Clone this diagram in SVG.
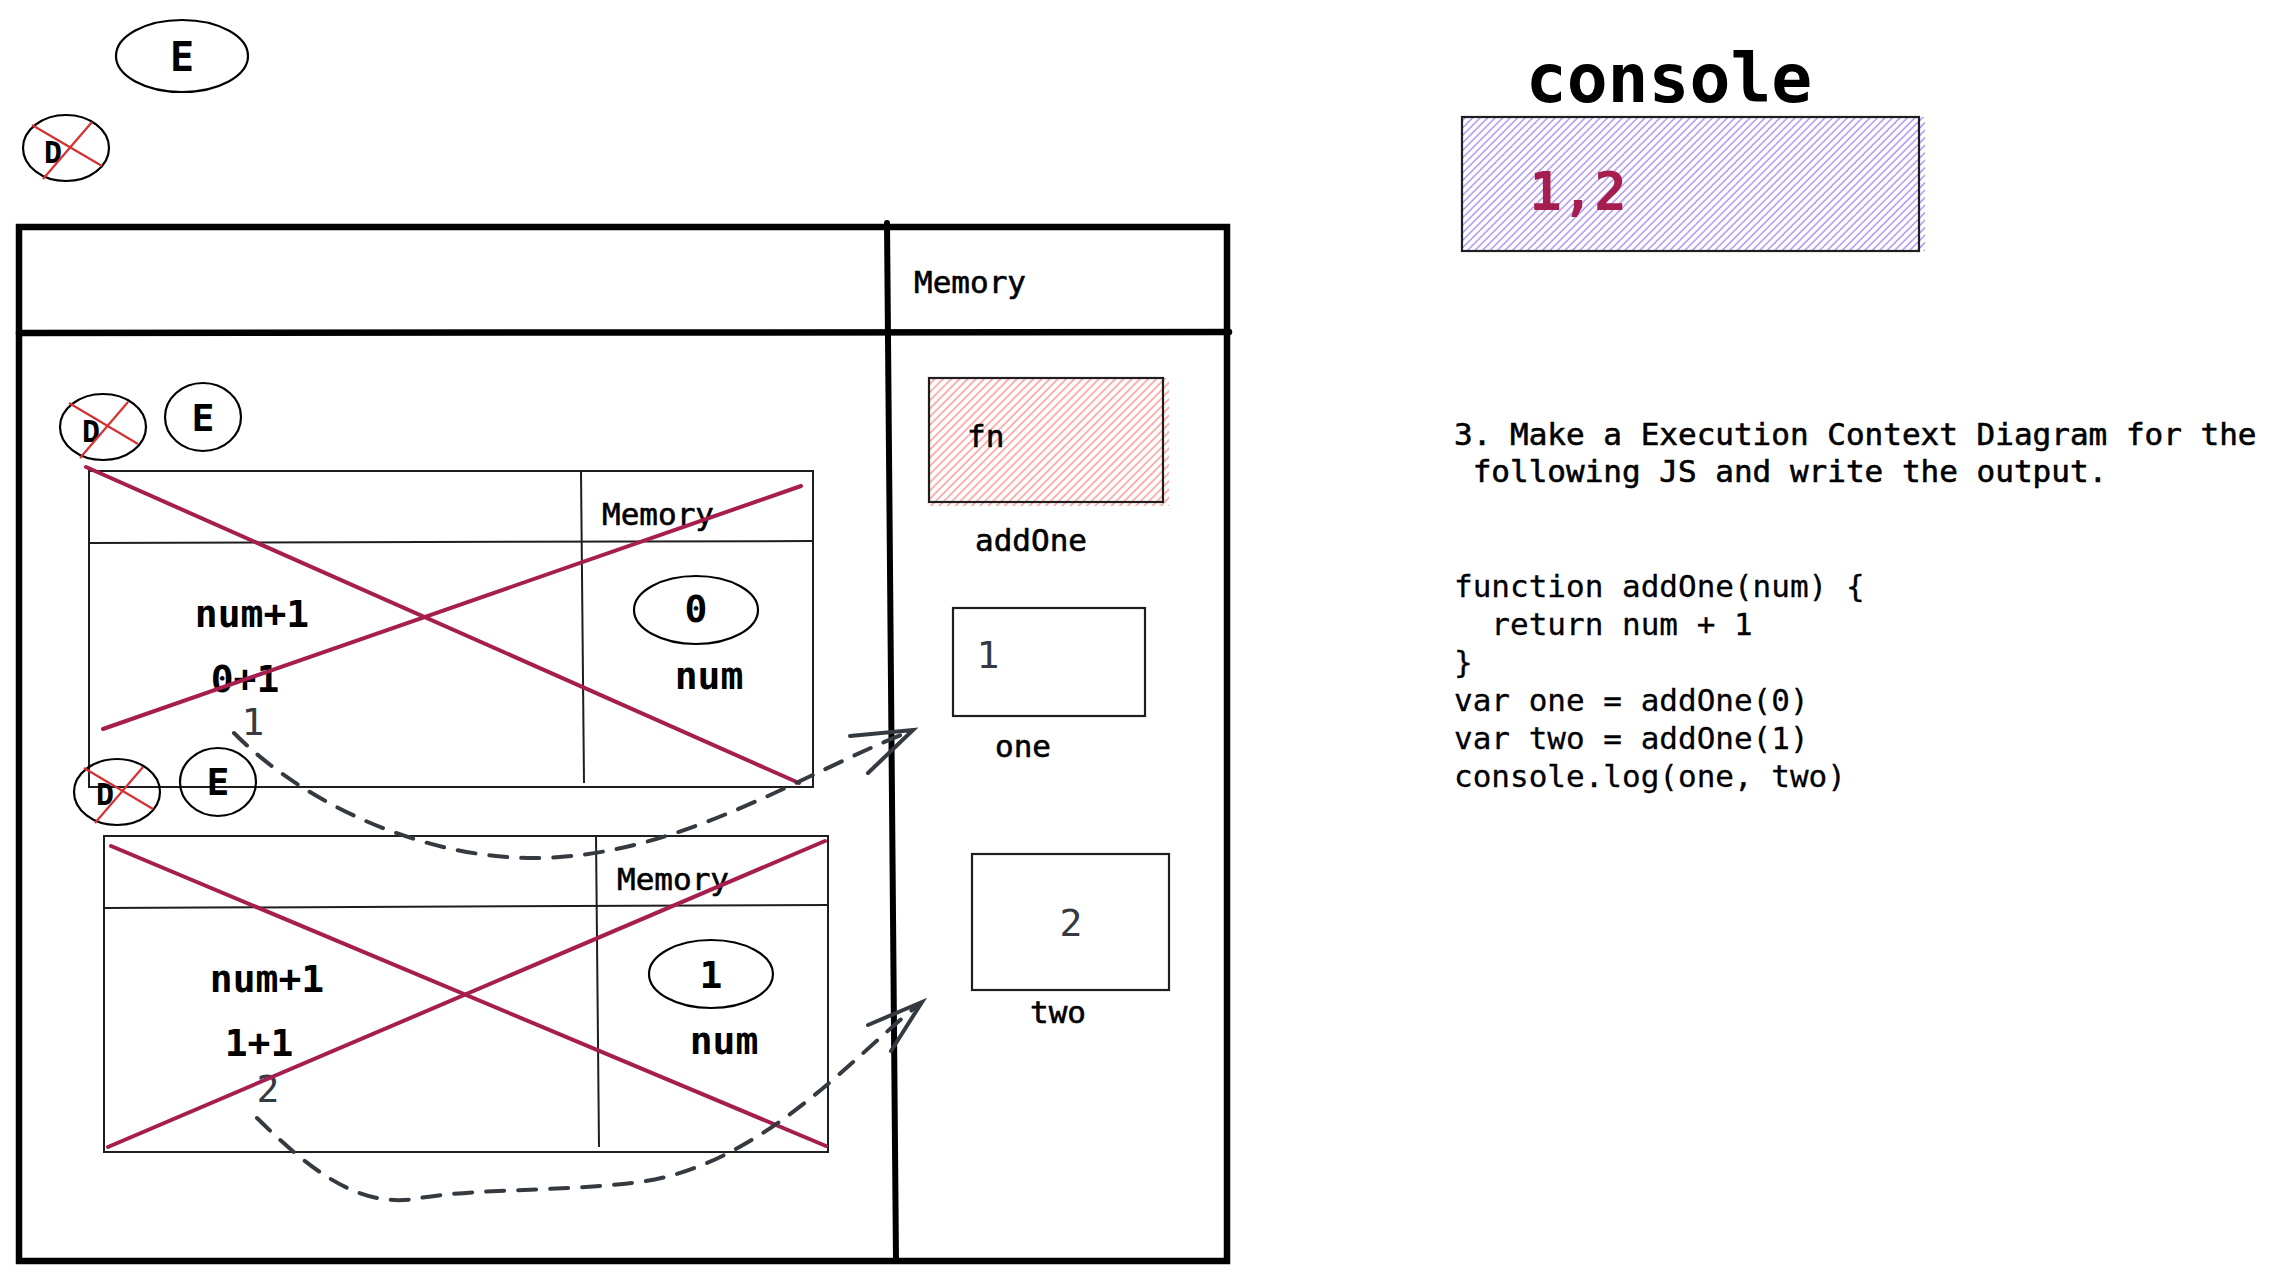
<svg xmlns="http://www.w3.org/2000/svg" width="2280" height="1281" viewBox="0 0 2280 1281">
<style>
  text { font-family: "DejaVu Sans Mono", "Liberation Mono", monospace; fill: #000; white-space: pre; }
  .lbl { font-size: 31px; stroke: #000; stroke-width: 0.6; }
  .code { font-size: 31px; stroke: #000; stroke-width: 0.3; }
  .calc { font-size: 38px; font-weight: bold; }
  .gray { font-size: 38px; fill: #343a40; }
  .ell { fill: none; stroke: #000; stroke-width: 2.2; }
  .xsm { stroke: #d63030; stroke-width: 2.2; fill: none; }
  .xbig { stroke: #a61e4d; stroke-width: 4; fill: none; stroke-linecap: round; }
  .tbl { fill: none; stroke: #1e1e1e; stroke-width: 2; }
  .frame { fill: none; stroke: #000; stroke-width: 6.5; stroke-linecap: round; }
  .conn { fill: none; stroke: #343a40; stroke-width: 4; stroke-linecap: round; }
  .dash { stroke-dasharray: 18 14; }
</style>
<defs>
  <pattern id="hatchBlue" patternUnits="userSpaceOnUse" width="5.3" height="5.3" patternTransform="rotate(45)">
    <line x1="1" y1="0" x2="1" y2="5.3" stroke="#7950f2" stroke-width="0.9"/>
  </pattern>
  <pattern id="hatchRed" patternUnits="userSpaceOnUse" width="5.8" height="5.8" patternTransform="rotate(45)">
    <line x1="1" y1="0" x2="1" y2="5.8" stroke="#fa5252" stroke-width="0.9"/>
  </pattern>
</defs>
<rect width="2280" height="1281" fill="#fff"/>

<g id="node-E-top">
  <ellipse class="ell" cx="182" cy="56" rx="66" ry="36"/>
  <text x="182" y="71" text-anchor="middle" style="font-size:40px;font-weight:bold">E</text>
</g>
<g id="node-D-top">
  <ellipse class="ell" cx="66" cy="148" rx="43" ry="33"/>
  <text x="53" y="163" text-anchor="middle" style="font-size:30px;font-weight:bold">D</text>
  <line class="xsm" x1="32" y1="125" x2="102" y2="166"/>
  <line class="xsm" x1="92" y1="122" x2="43" y2="179"/>
</g>

<g id="console">
  <text x="1669" y="102" text-anchor="middle" style="font-size:68px;font-weight:bold">console</text>
  <rect x="1462" y="117" width="463" height="134" fill="url(#hatchBlue)"/>
  <rect x="1462" y="117" width="457" height="134" fill="none" stroke="#1e1e1e" stroke-width="2.2"/>
  <text x="1578" y="210" text-anchor="middle" style="font-size:54px;font-weight:bold;fill:#a61e4d">1,2</text>
</g>

<g id="frame">
  <path class="frame" d="M19,227 L1227,227 L1227,1261 L19,1261 Z"/>
  <line class="frame" x1="19" y1="333" x2="1229" y2="332"/>
  <line class="frame" x1="887" y1="223" x2="896" y2="1261" style="stroke-width:6"/>
  <text class="lbl" x="914" y="293">Memory</text>
</g>

<g id="ctx1">
  <ellipse class="ell" cx="103" cy="427" rx="43" ry="33"/>
  <text x="91" y="442" text-anchor="middle" style="font-size:30px;font-weight:bold">D</text>
  <line class="xsm" x1="69" y1="403" x2="138" y2="444"/>
  <line class="xsm" x1="128" y1="402" x2="80" y2="458"/>
  <ellipse class="ell" cx="203" cy="417" rx="38" ry="34"/>
  <text x="203" y="431" text-anchor="middle" style="font-size:38px;font-weight:bold">E</text>
  <rect class="tbl" x="89" y="471" width="724" height="316"/>
  <line class="tbl" x1="89" y1="543" x2="813" y2="541"/>
  <line class="tbl" x1="581" y1="471" x2="584" y2="783"/>
  <text class="lbl" x="602" y="525">Memory</text>
  <text class="calc" x="252" y="627" text-anchor="middle">num+1</text>
  <text class="calc" x="245" y="692" text-anchor="middle">0+1</text>
  <text class="gray" x="253" y="735" text-anchor="middle">1</text>
  <ellipse class="ell" cx="696" cy="610" rx="62" ry="34"/>
  <text class="calc" x="696" y="622" text-anchor="middle">0</text>
  <text class="calc" x="709" y="689" text-anchor="middle">num</text>
  <line class="xbig" x1="86" y1="467" x2="799" y2="783"/>
  <line class="xbig" x1="103" y1="729" x2="801" y2="486"/>
</g>

<g id="ctx2">
  <ellipse class="ell" cx="117" cy="792" rx="43" ry="33"/>
  <text x="105" y="805" text-anchor="middle" style="font-size:30px;font-weight:bold">D</text>
  <line class="xsm" x1="84" y1="768" x2="153" y2="809"/>
  <line class="xsm" x1="143" y1="767" x2="95" y2="823"/>
  <ellipse class="ell" cx="218" cy="782" rx="38" ry="34"/>
  <text x="218" y="795" text-anchor="middle" style="font-size:38px;font-weight:bold">E</text>
  <rect class="tbl" x="104" y="836" width="724" height="316"/>
  <line class="tbl" x1="104" y1="908" x2="828" y2="905"/>
  <line class="tbl" x1="596" y1="836" x2="599" y2="1147"/>
  <text class="lbl" x="617" y="890">Memory</text>
  <text class="calc" x="267" y="992" text-anchor="middle">num+1</text>
  <text class="calc" x="259" y="1056" text-anchor="middle">1+1</text>
  <text class="gray" x="268" y="1102" text-anchor="middle">2</text>
  <ellipse class="ell" cx="711" cy="974" rx="62" ry="34"/>
  <text class="calc" x="711" y="988" text-anchor="middle">1</text>
  <text class="calc" x="724" y="1054" text-anchor="middle">num</text>
  <line class="xbig" x1="111" y1="846" x2="826" y2="1146"/>
  <line class="xbig" x1="108" y1="1147" x2="825" y2="841"/>
</g>

<g id="mem-addOne">
  <rect x="929" y="378" width="240" height="128" fill="url(#hatchRed)"/>
  <rect x="929" y="378" width="234" height="124" fill="none" stroke="#1e1e1e" stroke-width="2.2"/>
  <text class="lbl" x="967" y="447">fn</text>
  <text class="lbl" x="1031" y="551" text-anchor="middle">addOne</text>
</g>
<g id="mem-one">
  <rect x="953" y="608" width="192" height="108" fill="none" stroke="#1e1e1e" stroke-width="2.2"/>
  <text class="gray" x="988" y="668" text-anchor="middle">1</text>
  <text class="lbl" x="1023" y="757" text-anchor="middle">one</text>
</g>
<g id="mem-two">
  <rect x="972" y="854" width="197" height="136" fill="none" stroke="#1e1e1e" stroke-width="2.2"/>
  <text class="gray" x="1071" y="936" text-anchor="middle">2</text>
  <text class="lbl" x="1058" y="1023" text-anchor="middle">two</text>
</g>

<g id="instructions">
  <text class="lbl" x="1454" y="445" xml:space="preserve">3. Make a Execution Context Diagram for the</text>
  <text class="lbl" x="1454" y="482" xml:space="preserve"> following JS and write the output.</text>
  <text class="code" x="1454" y="597" xml:space="preserve">function addOne(num) {</text>
  <text class="code" x="1454" y="635" xml:space="preserve">  return num + 1</text>
  <text class="code" x="1454" y="673" xml:space="preserve">}</text>
  <text class="code" x="1454" y="711" xml:space="preserve">var one = addOne(0)</text>
  <text class="code" x="1454" y="749" xml:space="preserve">var two = addOne(1)</text>
  <text class="code" x="1454" y="787" xml:space="preserve">console.log(one, two)</text>
</g>

<g id="connectors">
  <path class="conn dash" d="M234,733 C300,800 420,860 540,858 C680,855 800,775 906,733"/>
  <path class="conn" d="M850,736 L913,730 L868,773"/>
  <path class="conn dash" d="M257,1118 C310,1170 360,1210 420,1198 C480,1188 560,1192 640,1182 C760,1165 850,1060 918,1005"/>
  <path class="conn" d="M868,1025 L922,1002 L891,1051"/>
</g>
</svg>
